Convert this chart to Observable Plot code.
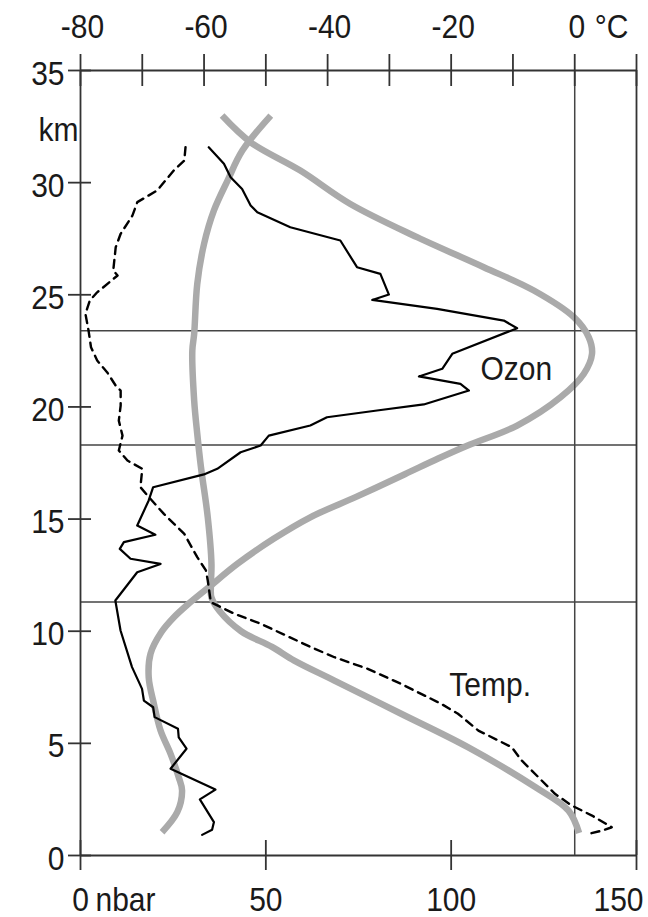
<!DOCTYPE html>
<html><head><meta charset="utf-8">
<script src="https://cdn.jsdelivr.net/npm/d3@7"></script>
<script src="https://cdn.jsdelivr.net/npm/@observablehq/plot@0.6"></script>
<style>
html,body{margin:0;padding:0;background:#fff;}
#chart{position:relative;width:648px;height:917px;}
#chart svg{position:absolute;left:0;top:0;}
</style></head><body><div id="chart"></div>
<script>
// axis ticks
const kmTicks = [0, 5, 10, 15, 20, 25, 30, 35];
const nbarTicks = [0, 50, 100, 150];
const nbarLabels = [0, 50, 100];
const tempTicks = [-80, -70, -60, -50, -40, -30, -20, -10, 0, 10];
const tempLabels = [-80, -60, -40, -20, 0];
const levelsKm = [23.4, 18.3, 11.3];

// measured ozone partial pressure (nbar) vs altitude (km)
const ozoneMeasKm = [0.92,1.15,1.49,2.5,2.94,3.87,4.76,5.27,5.65,6.17,6.61,6.91,7.43,8.4,10.03,11.37,12.63,13.0,13.23,13.67,13.97,14.3,14.71,15.83,16.42,16.99,17.24,17.98,18.28,18.72,19.17,19.54,19.84,20.11,20.73,21.03,21.36,21.7,22.37,23.51,23.85,24.37,24.77,25.01,25.93,26.23,27.42,28.01,28.68,28.98,29.72,30.24,30.84,31.58];
const ozoneMeasNbar = [32.8,35.5,36.0,32.2,36.4,24.3,28.6,26.5,26.3,20.0,19.6,17.1,16.6,13.9,10.8,9.4,15.3,21.6,13.5,10.6,11.7,20.2,15.3,18.4,19.6,33.3,36.9,43.2,48.6,50.8,62.0,66.5,80.0,92.6,104.8,102.5,91.3,97.6,100.3,117.8,114.2,96.2,78.7,83.2,80.9,74.6,70.1,56.6,47.7,45.9,43.6,40.5,38.7,34.6];

// measured temperature (°C) vs altitude (km)
const tempMeasKm = [31.58,30.98,30.54,29.65,29.13,28.53,27.72,27.12,26.08,25.86,25.11,24.74,24.15,23.41,22.66,22.07,21.55,20.95,20.73,20.06,19.39,18.72,18.06,17.61,17.24,16.42,15.97,15.23,14.34,13.3,12.71,12.26,11.29,10.78,10.33,9.29,8.84,8.32,7.65,6.76,6.32,5.57,4.83,4.24,2.75,2.23,1.78,1.26,1.11,0.96];
const tempMeasC = [-63.0,-63.2,-64.9,-67.6,-70.8,-71.6,-73.5,-74.3,-74.7,-74.0,-77.3,-78.5,-79.2,-78.7,-78.3,-77.3,-75.7,-74.3,-73.5,-73.5,-73.8,-73.2,-73.8,-72.4,-70.0,-70.3,-68.9,-66.5,-63.2,-61.1,-59.7,-59.4,-58.9,-55.1,-50.8,-42.7,-38.9,-33.5,-28.1,-21.6,-18.9,-15.6,-10.2,-8.6,-3.2,-0.5,2.8,6.0,4.4,2.2];

// reference (grey) ozone profile
const ozoneRefKm = [1.04,1.93,2.9,3.49,4.53,5.57,6.76,7.95,9.0,9.95,10.62,11.2,11.96,13.0,14.12,15.08,16.0,17.0,17.7,18.27,19.17,20.43,21.48,22.37,23.11,24.0,25.19,26.23,27.57,29.05,30.54,31.8,32.99];
const ozoneRefNbar = [22.0,26.1,27.4,26.5,24.3,21.6,19.8,18.4,18.9,21.8,25.2,29.0,34.6,42.3,52.1,62.0,74.5,87.5,96.5,104.3,117.8,129.5,135.8,138.0,137.1,133.1,122.3,108.8,90.8,72.8,59.3,45.9,38.2];

// reference (grey) temperature profile
const tempRefKm = [1.0,2.0,3.05,4.83,6.32,7.8,8.69,9.3,10.0,10.9,11.5,12.0,13.0,15.08,17.31,18.8,20.29,22.51,23.26,25.49,27.27,28.76,30.09,31.43,32.99];
const tempRefC = [0.7,-1.0,-6.4,-17.3,-28.1,-38.9,-45.4,-49.0,-54.0,-57.5,-58.8,-58.9,-58.8,-59.4,-60.5,-61.1,-61.6,-61.9,-61.6,-61.1,-60.0,-58.4,-56.2,-53.8,-49.2];

const zip = (ys, xs) => ys.map((y, i) => ({y, x: xs[i]}));
const ozoneMeas = zip(ozoneMeasKm, ozoneMeasNbar);
const tempMeas = zip(tempMeasKm, tempMeasC);
const ozoneRef = zip(ozoneRefKm, ozoneRefNbar);
const tempRef = zip(tempRefKm, tempRefC);

const FONT = "Liberation Sans, Arial, Helvetica, sans-serif";
const FS = 30;
const INK = "#1a1a1a";
const FRAME = "#333";
const GREY = "#aaaaaa";

const base = (xDomain) => ({
  width: 648, height: 917,
  marginLeft: 80, marginRight: 12, marginTop: 70, marginBottom: 62,
  x: {domain: xDomain, axis: null},
  y: {domain: [0, 35], axis: null},
  style: {background: "transparent", fontFamily: FONT, fontSize: FS + "px", overflow: "visible"}
});
const txt = {fontFamily: FONT, fontSize: FS, fill: INK, stroke: "none"};

// Layer 1: nbar scale — frame, levels, left and bottom axes, grey ozone
const layer1 = Plot.plot({
  ...base([0, 150]),
  style: {...base([0,150]).style, background: "white"},
  marks: [
    Plot.ruleY(levelsKm, {y: d => d, x1: 0, x2: 150, stroke: "#444", strokeWidth: 1.5}),
    Plot.ruleX([0, 150], {x: d => d, y1: 0, y2: 35, stroke: FRAME, strokeWidth: 1.8}),
    Plot.ruleY([0, 35], {y: d => d, x1: 0, x2: 150, stroke: FRAME, strokeWidth: 1.8}),
    Plot.ruleY(kmTicks, {y: d => d, x1: 0, x2: 0, insetLeft: -12, insetRight: -11, stroke: FRAME, strokeWidth: 1.8}),
    Plot.ruleX(nbarTicks, {x: d => d, y1: 0, y2: 0, insetTop: -15, insetBottom: -15, stroke: FRAME, strokeWidth: 1.8}),
    Plot.text(kmTicks, {x: 0, y: d => d, text: d => `${d}`, textAnchor: "end", lineAnchor: "bottom", dx: -16, dy: 14, ...txt}),
    Plot.text(["km"], {x: 0, y: 35, text: d => d, textAnchor: "start", lineAnchor: "bottom", dx: -42, dy: 70, ...txt}),
    Plot.text(nbarLabels, {x: d => d, y: 0, text: d => `${d}`, textAnchor: "middle", lineAnchor: "bottom", dy: 55, ...txt}),
    Plot.text([150], {x: d => d, y: 0, text: d => `${d}`, textAnchor: "end", lineAnchor: "bottom", dx: 7, dy: 55, ...txt}),
    Plot.text(["nbar"], {x: 0, y: 0, text: d => d, textAnchor: "start", lineAnchor: "bottom", dx: 15, dy: 55, ...txt}),
    Plot.line(ozoneRef, {x: "x", y: "y", stroke: GREY, strokeWidth: 6.5, curve: "catmull-rom", strokeLinecap: "butt"})
  ]
});

// Layer 2: temperature scale — top axis, 0 °C line, grey and dashed temperature
const layer2 = Plot.plot({
  ...base([-80, 10]),
  marks: [
    Plot.ruleX([0], {x: d => d, y1: 0, y2: 35, stroke: "#444", strokeWidth: 1.5}),
    Plot.ruleX(tempTicks, {x: d => d, y1: 35, y2: 35, insetTop: -16, insetBottom: -16, stroke: FRAME, strokeWidth: 1.8}),
    Plot.text(tempLabels, {x: d => d, y: 35, text: d => `${d}`, textAnchor: "middle", lineAnchor: "bottom", dx: 2, dy: -33, ...txt}),
    Plot.text(["°C"], {x: 0, y: 35, text: d => d, textAnchor: "start", lineAnchor: "bottom", dx: 20, dy: -33, ...txt}),
    Plot.line(tempRef, {x: "x", y: "y", stroke: GREY, strokeWidth: 6.5, curve: "catmull-rom", strokeLinecap: "butt"}),
    Plot.line(tempMeas, {x: "x", y: "y", stroke: "#000", strokeWidth: 2.4, strokeDasharray: "8,6"}),
    Plot.text(["Temp."], {x: -20.3, y: 7.13, text: d => d, textAnchor: "start", lineAnchor: "bottom", ...txt})
  ]
});

// Layer 3: nbar scale — measured ozone and its label
const layer3 = Plot.plot({
  ...base([0, 150]),
  marks: [
    Plot.line(ozoneMeas, {x: "x", y: "y", stroke: "#000", strokeWidth: 2.2}),
    Plot.text(["Ozon"], {x: 107.9, y: 21.18, text: d => d, textAnchor: "start", lineAnchor: "bottom", ...txt})
  ]
});

const chart = document.getElementById("chart");
chart.append(layer1, layer2, layer3);

// the original lettering is slightly taller than it is wide: stretch text vertically about its baseline
for (const svg of [layer1, layer2, layer3]) {
  d3.select(svg).selectAll("text").each(function () {
    const t = this.getAttribute("transform");
    if (t && /translate/.test(t) && !this.getAttribute("y")) {
      this.setAttribute("transform", t + " scale(1,1.13)");
    }
  });
}
</script></body></html>
